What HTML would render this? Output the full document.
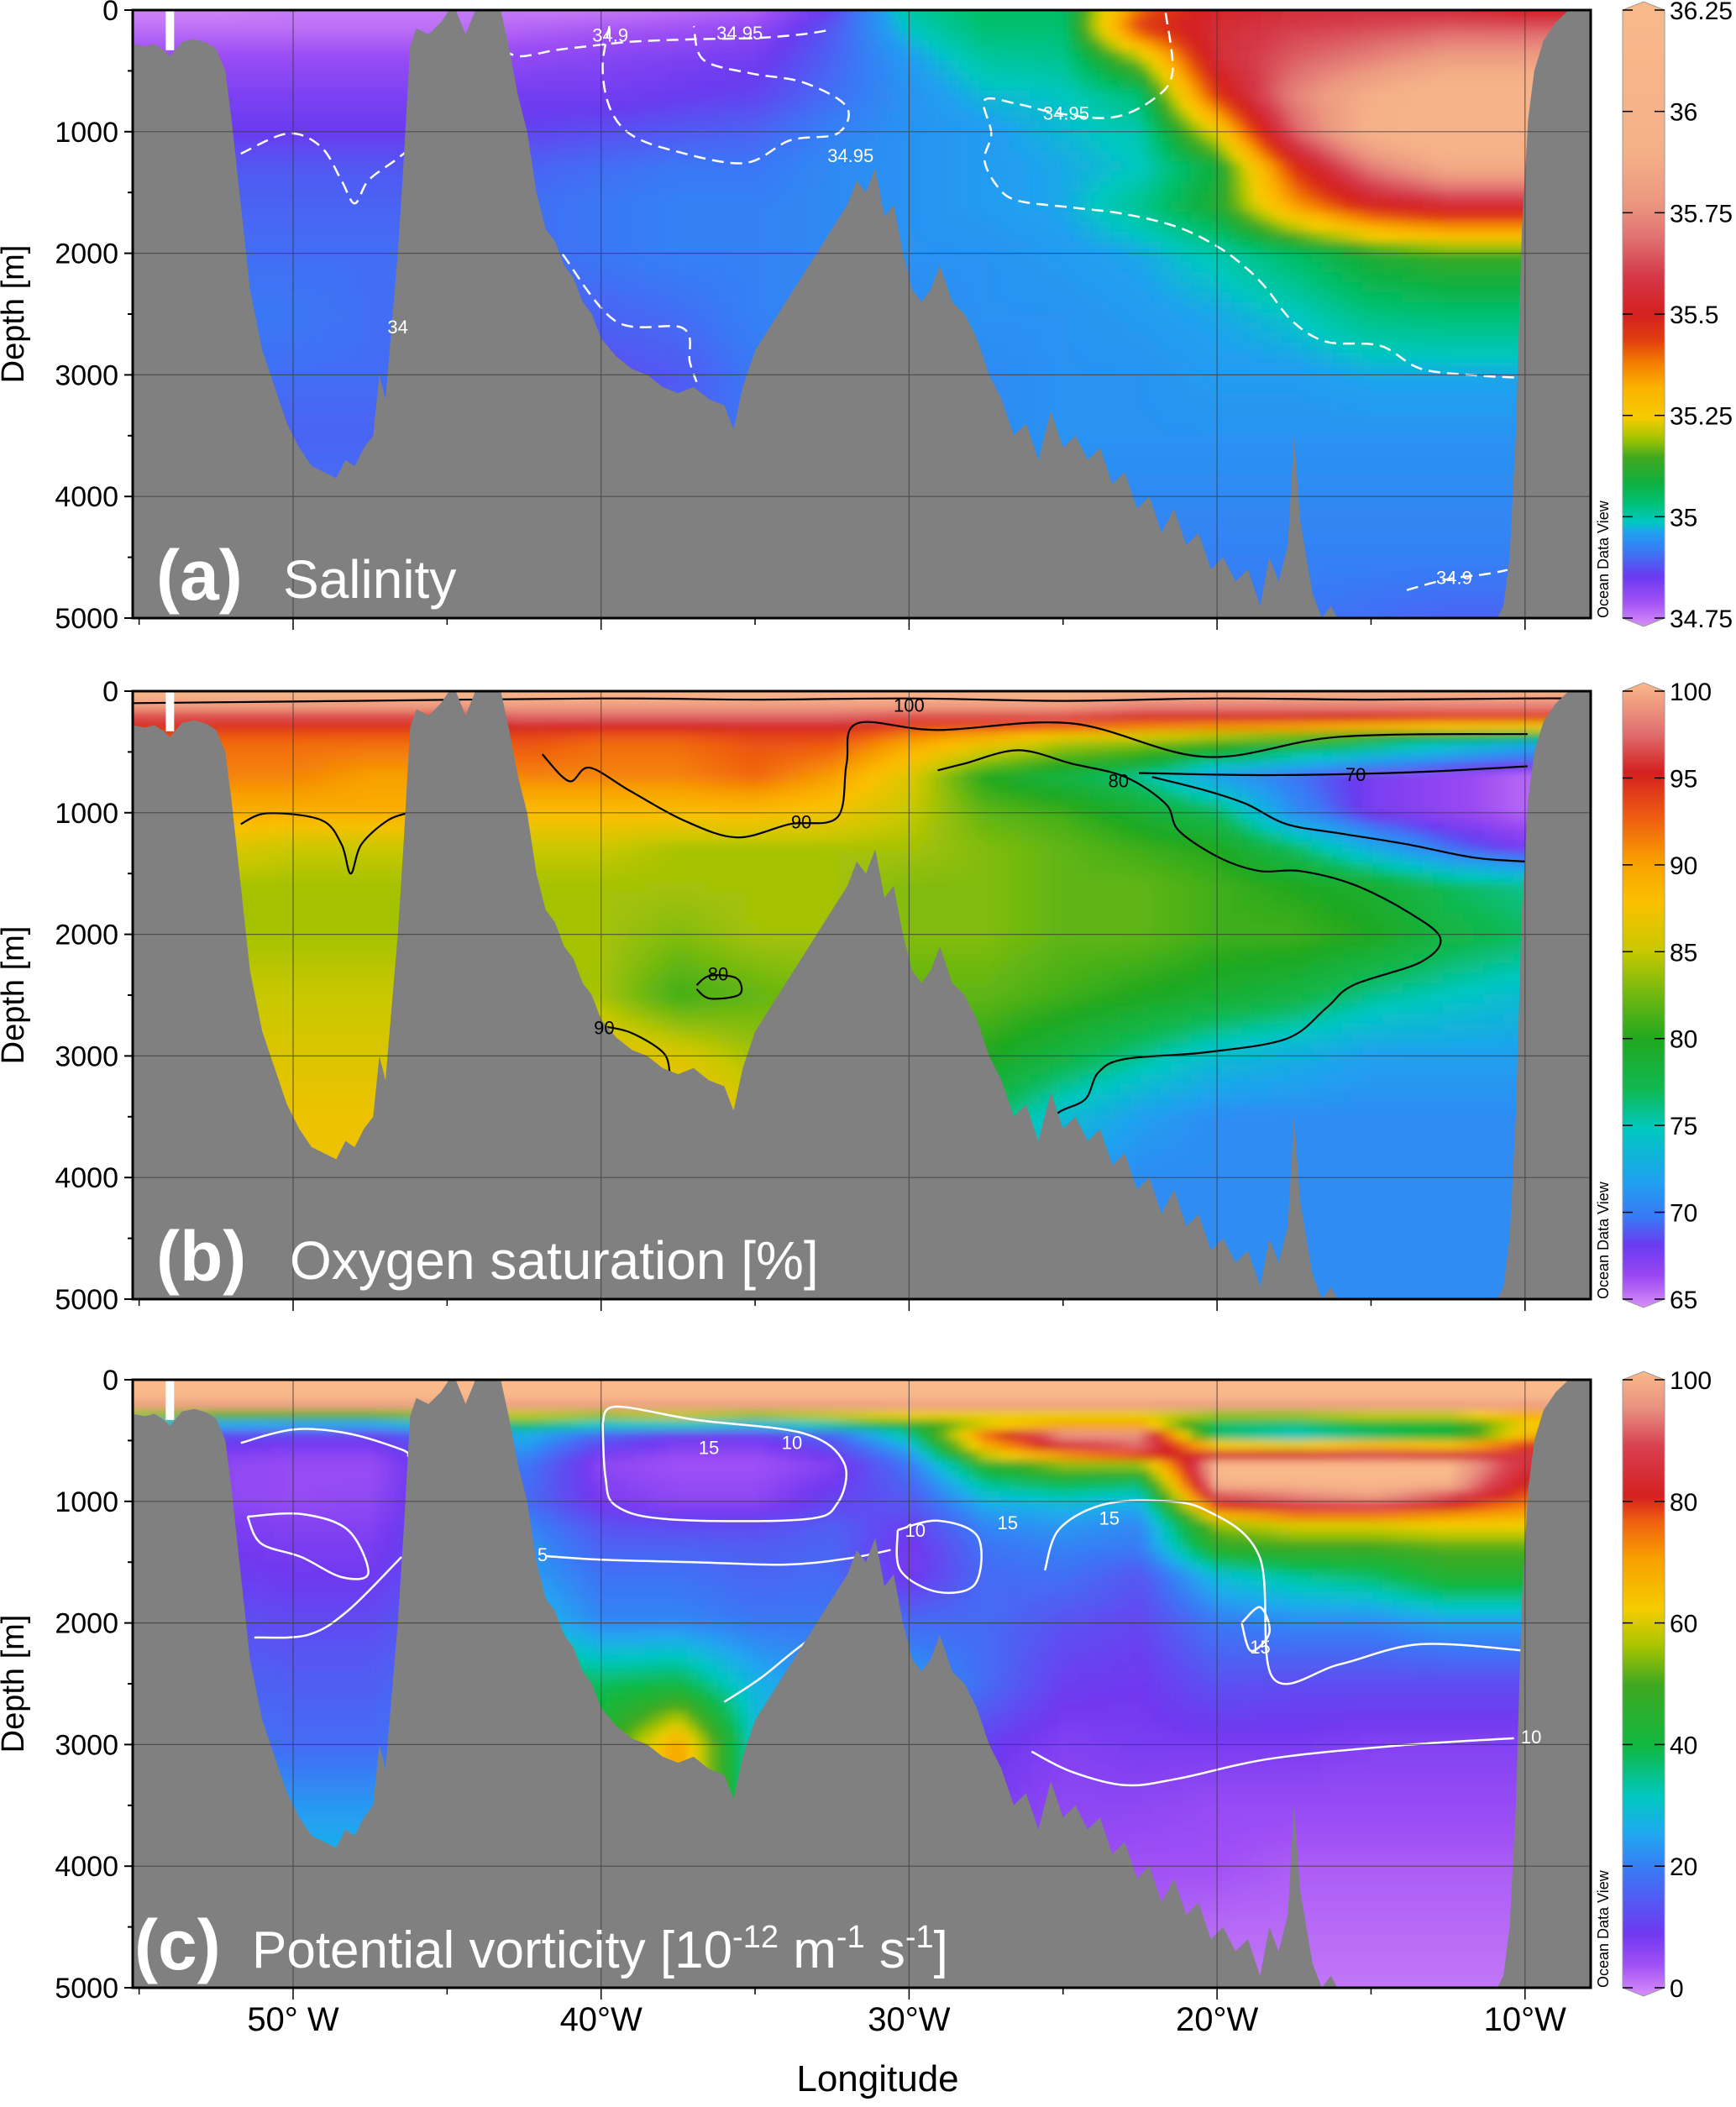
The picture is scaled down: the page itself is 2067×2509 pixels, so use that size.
<!DOCTYPE html>
<html><head><meta charset="utf-8"><title>Ocean section</title>
<style>
html,body{margin:0;padding:0;background:#fff;}
body{width:2067px;height:2504px;overflow:hidden;font-family:"Liberation Sans",sans-serif;}
svg text{font-family:"Liberation Sans",sans-serif;}
</style></head>
<body>
<svg id="fig" xmlns="http://www.w3.org/2000/svg" width="2067" height="2504" viewBox="0 0 2067 2504">
<defs>
<filter id="blur" x="-5%" y="-5%" width="110%" height="110%"><feGaussianBlur stdDeviation="5"/></filter>
</defs>
</svg>
<script>
// ---------- data ----------
const gridLon = [55,52.5,50,47.5,45,42.5,40,37.5,35,32.5,30,27.5,25,22.5,20,17.5,15,12.5,10,7.5];

const salDepth = [0,150,400,700,1000,1300,1600,2000,2500,3000,3500,4000,4500,5000];
const salValues = [
[34.76,34.76,34.77,34.77,34.77,34.77,34.77,34.78,34.79,34.88,35.02,35.06,35.06,35.40,35.52,35.55,35.56,35.55,35.50,35.50],
[34.78,34.78,34.78,34.78,34.78,34.79,34.80,34.81,34.83,34.90,35.00,35.05,35.05,35.45,35.55,35.60,35.62,35.65,35.65,35.65],
[34.82,34.82,34.82,34.82,34.82,34.83,34.84,34.85,34.86,34.91,34.97,35.02,35.03,35.20,35.55,35.65,35.72,35.80,35.80,35.80],
[34.85,34.85,34.85,34.85,34.85,34.86,34.86,34.87,34.88,34.92,34.96,34.99,35.00,35.05,35.45,35.72,35.88,36.00,36.00,36.00],
[34.87,34.87,34.87,34.87,34.87,34.88,34.89,34.90,34.91,34.94,34.96,34.97,34.99,35.01,35.25,35.65,35.92,36.02,36.00,36.00],
[34.90,34.90,34.90,34.90,34.90,34.91,34.92,34.93,34.93,34.95,34.96,34.97,34.98,35.00,35.10,35.45,35.70,35.85,35.85,35.85],
[34.91,34.91,34.91,34.91,34.91,34.92,34.93,34.94,34.94,34.95,34.96,34.97,34.98,35.03,35.12,35.35,35.50,35.55,35.55,35.55],
[34.92,34.92,34.92,34.92,34.92,34.92,34.93,34.94,34.94,34.95,34.96,34.96,34.97,34.98,35.01,35.06,35.12,35.15,35.15,35.15],
[34.92,34.93,34.93,34.92,34.92,34.91,34.91,34.92,34.94,34.95,34.95,34.96,34.96,34.97,34.98,35.00,35.04,35.05,35.05,35.05],
[34.92,34.92,34.92,34.92,34.91,34.90,34.89,34.90,34.93,34.95,34.95,34.95,34.96,34.96,34.97,34.97,34.98,34.98,34.98,34.98],
[34.91,34.91,34.91,34.91,34.91,34.90,34.90,34.91,34.93,34.95,34.95,34.95,34.96,34.96,34.96,34.96,34.96,34.96,34.96,34.96],
[34.92,34.92,34.92,34.92,34.92,34.92,34.92,34.92,34.93,34.94,34.95,34.95,34.95,34.95,34.95,34.95,34.95,34.95,34.95,34.95],
[34.92,34.92,34.92,34.92,34.92,34.92,34.92,34.92,34.93,34.94,34.94,34.94,34.94,34.94,34.94,34.94,34.94,34.94,34.94,34.94],
[34.92,34.92,34.92,34.92,34.92,34.92,34.92,34.92,34.92,34.93,34.93,34.93,34.93,34.93,34.93,34.93,34.92,34.91,34.91,34.91]
];

const oxyDepth = [0,120,250,400,700,1000,1300,1600,2000,2500,3000,3500,4000,4500,5000];
const oxyValues = [
[100,100,100,100,100,100,100,100,100,100,100,100,100,100,100,100,100,100,100,100],
[99,99,99,99,99,99,99,99,99,99,99,99,99,98,98,98,98,98,98,98],
[95,95,95,95,95,96,96,96,96,96,95,95,95,94,94,94,93,92,92,92],
[93,92,92,92,92,93,92,92,93,93,90,88,85,84,82,80,78,76,74,74],
[91,91,91,90,90,91,91,91,92,90,86,80,78,76,72,70,68,67,66,66],
[89,89,89,89,89,88,88,88,88,87,85,82,81,79,77,71,68,67,66,66],
[86,86,85,85,85,85,85,84,84,84,84,83,82,81,80,77,73,70,68,68],
[84,84,84,84,84,84,84,84,84,84,83,83,82,82,81,80,79,77,76,76],
[84,84,84,84,84,84,84,83,84,84,83,83,82,82,81,81,80,78,77,77],
[85,85,85,85,85,84,84,81,82,83,82,82,81,80,79,78,76,75,74,74],
[86,86,86,86,86,87,87,86,84,83,81,80,78,76,74,73,72,72,72,72],
[87,87,87,87,87,87,88,88,86,84,79,77,74,72,71,71,71,71,71,71],
[87,87,87,87,87,87,88,88,86,84,78,75,72,71,71,71,71,71,71,71],
[87,87,87,87,87,87,88,88,86,84,78,75,72,71,71,71,71,71,71,71],
[87,87,87,87,87,87,88,88,86,84,78,75,72,71,71,71,71,71,71,71]
];

const pvDepth = [0,200,240,320,450,580,700,850,1000,1080,1200,1400,1600,2000,2500,3000,3500,4000,4500,5000];
const pvValues = [
[100,100,100,100,100,100,100,100,100,100,100,100,100,100,100,100,100,100,100,100],
[100,100,100,100,100,100,100,100,100,100,100,100,100,100,100,100,100,100,100,100],
[80,80,80,80,80,80,80,80,80,80,80,80,80,80,80,80,80,80,80,80],
[40,35,35,35,40,45,40,45,40,45,50,50,50,50,40,40,45,45,60,60],
[15,14,12,12,18,28,18,12,12,18,35,75,95,95,35,30,35,40,65,65],
[10,9,8,8,15,24,10,7,7,12,25,65,80,90,75,75,80,75,85,85],
[8,7,6,6,13,20,7,5,5,8,20,45,55,55,100,100,100,100,85,85],
[8,7,6,6,13,19,8,6,6,10,17,35,40,38,100,100,100,100,80,80],
[8,7,6,7,13,18,9,7,7,12,15,28,30,28,85,90,95,85,75,75],
[9,8,7,7,13,20,11,9,9,13,14,25,27,25,70,80,80,75,70,70],
[10,9,8,8,14,22,14,13,13,16,11,22,24,22,55,60,60,62,62,62],
[11,10,9,9,14,24,17,17,16,17,9,19,21,20,45,48,48,50,50,50],
[12,11,10,10,15,25,19,19,17,18,9,18,19,15,30,35,38,45,45,45],
[14,14,13,13,17,30,22,22,20,20,18,18,14,12,20,22,22,25,25,25],
[17,17,16,16,19,40,38,40,28,22,25,18,11,10,14,13,13,13,13,13],
[20,20,18,18,21,45,45,70,30,22,22,11,8,9,9,9,8,8,8,8],
[26,26,24,24,26,45,45,70,30,20,18,9,7,7,6,6,6,6,6,6],
[30,30,28,28,28,45,45,50,30,20,15,8,6,5,5,4,4,4,4,4],
[30,30,28,28,28,45,45,50,30,20,15,8,5,4,3,3,3,3,3,3],
[30,30,28,28,28,45,45,50,30,20,15,8,5,3,2,2,2,2,2,2]
];

const bathyLon = [55.25,54.8,54.5,54.2,54.0,53.6,53.2,52.8,52.5,52.2,52.0,51.7,51.4,51.0,50.6,50.2,49.8,49.4,49.0,48.6,48.3,48.0,47.7,47.4,47.2,47.0,46.8,46.6,46.4,46.2,46.0,45.6,45.2,44.8,44.4,44.0,43.6,43.3,43.0,42.7,42.4,42.1,41.8,41.5,41.2,40.9,40.6,40.3,40.0,39.5,39.0,38.5,38.0,37.5,37.0,36.5,36.0,35.7,35.4,35.0,34.5,34.0,33.5,33.0,32.5,32.0,31.7,31.4,31.1,30.8,30.5,30.2,29.9,29.6,29.3,29.0,28.6,28.2,27.8,27.4,27.0,26.6,26.2,25.8,25.4,25.0,24.6,24.2,23.8,23.4,23.0,22.6,22.2,21.8,21.4,21.0,20.6,20.2,19.8,19.4,19.0,18.6,18.3,18.0,17.7,17.5,17.3,17.1,16.9,16.6,16.3,16.0,15.5,14.0,12.0,11.0,10.7,10.5,10.3,10.1,9.9,9.7,9.4,9.0,8.5,7.87];
const bathyDepth = [280,300,280,330,380,260,240,270,320,500,900,1600,2300,2800,3100,3400,3600,3750,3800,3850,3700,3750,3600,3500,3000,3200,2600,2000,1200,300,150,200,100,-50,200,-50,-50,-50,300,700,1000,1500,1800,1900,2100,2200,2400,2500,2700,2850,2950,3000,3100,3150,3100,3200,3250,3450,3100,2800,2600,2400,2200,2000,1800,1600,1400,1500,1300,1700,1600,2000,2300,2400,2300,2100,2400,2500,2700,3000,3200,3500,3400,3700,3300,3600,3500,3700,3600,3900,3800,4100,4000,4300,4100,4400,4300,4600,4500,4700,4600,4900,4500,4700,4400,3500,4200,4500,4800,5000,4900,5050,5100,5100,5100,5050,4900,4500,3500,1800,900,500,250,100,-20,-50];

// contour lines (lon W, depth m)
const salContours = [
 {lon:[21.67,21.45,22.11,23.41,25.15,26.46,27.55,27.33,27.55,27.11,26.46,24.72,22.98,21.24,19.93,19.06,18.41,17.54,16.45,14.71,13.40,11.66,10.05], dep:[22,519,740,883,850,773,740,1015,1236,1457,1568,1623,1678,1788,1954,2120,2285,2561,2727,2760,2948,3003,3025]},
 {lon:[39.73,39.95,39.73,39.08,37.77,35.38,33.86,32.33,32.03,33.42,35.16,36.68,36.99], dep:[132,464,795,1015,1148,1259,1071,1015,795,596,519,408,132]},
 {lon:[51.70,50.17,49.09,48.43,48.00,47.56,46.69,46.13], dep:[1181,1015,1126,1402,1590,1402,1236,1126]},
 {lon:[13.84,12.53,11.23,10.57], dep:[4770,4681,4637,4604]},
 {lon:[41.25,39.51,37.34,37.12,36.90], dep:[2009,2561,2616,2893,3058]},
 {lon:[43.2,42.6,41.5,40.5,39.0,37.0,35.0,33.5,32.5], dep:[330,380,330,300,260,240,230,200,160]}
];
const oxyContours = [
 {lon:[55.18,48,40,35,30,25,20,15,10,8.5], dep:[99,80,60,70,60,80,60,70,60,60]},
 {lon:[51.70,50.83,49.09,48.43,48.13,47.78,46.91,46.13], dep:[1093,1004,1060,1259,1501,1259,1060,994]},
 {lon:[41.91,41.04,40.38,39.08,37.34,35.60,33.86,32.33,32.03,31.68,29.07,24.72,20.37,16.01,9.92], dep:[519,740,629,817,1060,1203,1093,1038,596,265,320,265,541,375,353]},
 {lon:[29.07,28.20,26.46,24.72,22.98,21.67,21.24,19.93,18.62,17.32,15.58,13.84,12.75,13.40,15.58,16.45,17.75,20.37,22.98,23.85,24.28,25.15,25.59], dep:[651,596,486,596,706,927,1148,1369,1479,1479,1590,1811,2031,2230,2418,2605,2859,2970,3025,3135,3356,3467,3632]},
 {lon:[22.11,20.37,19.06,17.75,16.01,13.84,11.66,9.92], dep:[706,817,927,1093,1170,1259,1369,1402]},
 {lon:[22.54,19.0,16.01,13.0,9.92], dep:[673,690,684,660,618]},
 {lon:[36.90,36.46,35.60,35.51,36.46,36.90], dep:[2418,2340,2362,2495,2528,2451]},
 {lon:[40.17,39.08,37.99,37.77], dep:[2749,2804,2970,3135]}
];
const pvContours = [
 {lon:[39.95,39.51,36.90,33.42,32.11,32.33,33.42,37.77,39.51,39.86,39.95], dep:[353,221,331,441,685,1016,1148,1148,1038,795,353]},
 {lon:[30.37,29.07,27.77,27.85,29.07,30.28,30.37], dep:[1236,1159,1291,1678,1745,1568,1236]},
 {lon:[26.02,24.72,22.98,21.24,18.19,13.84,10.36], dep:[3058,3224,3334,3279,3113,3003,2948]},
 {lon:[25.59,25.15,23.85,22.11,20.37,18.62,18.19,16.01,13.40,9.92], dep:[1568,1236,1038,994,1071,1457,2451,2340,2175,2230]},
 {lon:[51.70,49.96,48.22,46.48,46.26], dep:[519,408,441,574,629]},
 {lon:[51.48,49.74,48.22,47.56,48.43,49.74,51.04,51.48], dep:[1126,1104,1236,1590,1623,1457,1347,1126]},
 {lon:[51.26,49.52,48.22,46.48], dep:[2120,2098,1899,1457]},
 {lon:[36.0,34.8,33.3,32.0,31.2], dep:[2650,2450,2150,2000,1950]},
 {lon:[41.8,40.0,37.0,34.0,32.0,30.6], dep:[1450,1480,1500,1520,1470,1400]},
 {lon:[19.2,18.6,18.3,18.9,19.2], dep:[2000,1870,2080,2230,2000]}
];

const depthTicks = [0,1000,2000,3000,4000,5000];
const lonTicks = [50,40,30,20,10];
const lonTickLabels = ["50\u00b0 W","40\u00b0W","30\u00b0W","20\u00b0W","10\u00b0W"];
const salBarLabels = ["36.25","36","35.75","35.5","35.25","35","34.75"];
const oxyBarLabels = ["100","95","90","85","80","75","70","65"];
const pvBarLabels = ["100","80","60","40","20","0"];

// ---------- layout ----------
const PL = 158, PR = 1894, PH = 724;
const tops = [12, 823, 1643];
function X(w){ return 349 + (50 - w) * 36.67; }
function Yf(top){ return d => top + d / 5000 * PH; }
const NS = "http://www.w3.org/2000/svg";
const svg = document.getElementById('fig');
function el(tag, attrs, parent){
  const e = document.createElementNS(NS, tag);
  for (const k in attrs) e.setAttribute(k, attrs[k]);
  (parent || svg).appendChild(e);
  return e;
}
function hex(c){ return [parseInt(c.slice(1,3),16),parseInt(c.slice(3,5),16),parseInt(c.slice(5,7),16)]; }
function cmap(stops, f){
  f = Math.max(0, Math.min(1, f));
  for (let i=1;i<stops.length;i++){
    if (f <= stops[i][0]){
      const a=stops[i-1], b=stops[i]; const t=(f-a[0])/(b[0]-a[0]||1);
      const ca=hex(a[1]), cb=hex(b[1]);
      return 'rgb('+ca.map((v,j)=>Math.round(v+(cb[j]-v)*t)).join(',')+')';
    }
  }
  return stops[stops.length-1][1];
}
const salStops = [[0,'#d890f8'],[0.04,'#a050f5'],[0.08,'#6a3af0'],[0.12,'#3a78f5'],[0.15,'#20a0f0'],[0.167,'#00c8c0'],[0.2,'#00c070'],[0.23,'#10b040'],[0.27,'#40a820'],[0.3,'#a0c400'],[0.333,'#f5cc00'],[0.38,'#fcb400'],[0.42,'#f58000'],[0.46,'#e03c10'],[0.5,'#d42020'],[0.56,'#d43848'],[0.62,'#e07070'],[0.68,'#ec9880'],[0.76,'#f5b088'],[1,'#f9b98a']];
const oxyStops = [[0,'#d890f8'],[0.05,'#9a48f2'],[0.1,'#6a3af0'],[0.143,'#3a78f5'],[0.2,'#20a0f0'],[0.286,'#00c8c0'],[0.35,'#10b850'],[0.429,'#20a820'],[0.5,'#70b810'],[0.571,'#c8c800'],[0.65,'#fbc000'],[0.714,'#f8a000'],[0.78,'#f06010'],[0.857,'#d42020'],[0.92,'#e07070'],[1,'#f9b98a']];
const pvStops = [[0,'#d890f8'],[0.05,'#a050f5'],[0.1,'#7038f0'],[0.2,'#3a78f5'],[0.26,'#20a8f0'],[0.32,'#00c8c0'],[0.4,'#10b840'],[0.5,'#40a820'],[0.56,'#a8c400'],[0.62,'#f5cc00'],[0.7,'#f8a000'],[0.76,'#f06010'],[0.8,'#d42020'],[0.88,'#d84050'],[0.94,'#e89080'],[1,'#f9b98a']];

function interp(values, depths, w, d){
  let ci = 0;
  while (ci < gridLon.length-2 && w < gridLon[ci+1]) ci++;
  let tx = (gridLon[ci]-w)/(gridLon[ci]-gridLon[ci+1]); tx=Math.max(0,Math.min(1,tx));
  let ri = 0;
  while (ri < depths.length-2 && d > depths[ri+1]) ri++;
  let ty = (d-depths[ri])/(depths[ri+1]-depths[ri]); ty=Math.max(0,Math.min(1,ty));
  const a=values[ri][ci], b=values[ri][ci+1], c=values[ri+1][ci], e=values[ri+1][ci+1];
  return (a*(1-tx)+b*tx)*(1-ty)+(c*(1-tx)+e*tx)*ty;
}
function smoothPath(pts){
  let s = 'M'+pts[0][0].toFixed(1)+','+pts[0][1].toFixed(1);
  for (let i=0;i<pts.length-1;i++){
    const p0=pts[i-1]||pts[i], p1=pts[i], p2=pts[i+1], p3=pts[i+2]||p2;
    const c1=[p1[0]+(p2[0]-p0[0])/6, p1[1]+(p2[1]-p0[1])/6];
    const c2=[p2[0]-(p3[0]-p1[0])/6, p2[1]-(p3[1]-p1[1])/6];
    s+=' C'+c1[0].toFixed(1)+','+c1[1].toFixed(1)+' '+c2[0].toFixed(1)+','+c2[1].toFixed(1)+' '+p2[0].toFixed(1)+','+p2[1].toFixed(1);
  }
  return s;
}

function drawPanel(idx, key, values, depths, vmin, vmax, stops, contours, contourStyle, barLabels, titleLetter, titleText){
  const top = tops[idx]; const Y = Yf(top);
  const g = el('g', {});  
  const cid = 'clip'+idx;
  const cp = el('clipPath', {id:cid}, g); el('rect', {x:PL, y:top, width:PR-PL, height:PH}, cp);
  const inner = el('g', {'clip-path':'url(#'+cid+')'}, g);
  const field = el('g', {filter:'url(#blur)'}, inner);
   
  const cs = 12;
  for (let y = top-24; y < top+PH+24; y += cs){
    for (let x = PL-24; x < PR+24; x += cs){
      const w = 50 - (x+cs/2-349)/36.67;
      const d = (y+cs/2-top)/PH*5000;
      const v = interp(values, depths, w, Math.max(0,d));
      el('rect', {x:x, y:y, width:cs+1, height:cs+1, fill:cmap(stops,(v-vmin)/(vmax-vmin))}, field);
    }
  }
  const cg = el('g', {fill:'none', stroke:contourStyle.color, 'stroke-width':contourStyle.width, 'stroke-dasharray':contourStyle.dash, 'stroke-linejoin':'round'}, inner);
   
  contours.forEach((c,i)=>{
    const pts = c.lon.map((w,j)=>[X(w), Y(c.dep[j])]);
    const p = el('path', {d:smoothPath(pts)}, cg);
    
    
  });
  let pts = [[X(bathyLon[0]), top+PH+5]];
  bathyLon.forEach((w,i)=>pts.push([X(w), Y(bathyDepth[i])]));
  pts.push([X(bathyLon[bathyLon.length-1]), top+PH+5]);
  const b = el('polygon', {points:pts.map(p=>p[0].toFixed(1)+','+p[1].toFixed(1)).join(' '), fill:'#808080'}, inner);
  
  
  el('rect',{x:X(54.0)-5,y:top,width:10,height:Y(330)-top,fill:'#fff'},inner);
  const gg = el('g', {stroke:'#3a3a3a', 'stroke-width':1.2, opacity:0.7}, inner);
   
  depthTicks.slice(1,-1).forEach(d=>el('line',{x1:PL,x2:PR,y1:Y(d),y2:Y(d)},gg));
  lonTicks.forEach(w=>el('line',{x1:X(w),x2:X(w),y1:top,y2:top+PH},gg));
  const t1 = el('text', {x:idx===2?160:186, y:top+PH-22, fill:'#fff', 'font-size':84, 'font-weight':'bold'}, g);
  t1.textContent = titleLetter;
   
  if (typeof titleText === 'string'){
    const t2 = el('text', {x:idx===0?337:345, y:top+PH-24, fill:'#fff', 'font-size':64}, g);
    t2.textContent = titleText;
     
  } else {
    const t2 = el('text', {x:300, y:top+PH-24, fill:'#fff', 'font-size':62}, g);
     
    titleText.forEach(part=>{
      const ts = el('tspan', part.sup ? {'font-size':38, dy:-24} : {'font-size':62, dy: part.down?24:0}, t2);
      ts.textContent = part.t;
    });
  }
  const fr = el('rect', {x:PL, y:top, width:PR-PL, height:PH, fill:'none', stroke:'#000', 'stroke-width':3}, g);
   
  for (let d=0; d<=5000; d+=500){
    el('line',{x1:PL-(d%1000?6:10),x2:PL,y1:Y(d),y2:Y(d),stroke:'#000','stroke-width':2},g);
  }
  for (let w=55; w>=10; w-=5){
    el('line',{x1:X(w),x2:X(w),y1:top+PH,y2:top+PH+(w%10?8:14),stroke:'#000','stroke-width':1.5},g);
  }
  depthTicks.forEach(d=>{
    const t = el('text',{x:141,y:Y(d)+12,'text-anchor':'end','font-size':34,fill:'#000'},g);
    t.textContent = String(d);
     
  });
  const yl = el('text',{x:0,y:0,'text-anchor':'middle','font-size':38,fill:'#000',transform:'translate(28,'+(top+PH/2)+') rotate(-90)'},g);
  yl.textContent = 'Depth [m]';
   
  const odv = el('text',{x:0,y:0,'font-size':18,fill:'#000',transform:'translate(1915,'+(top+PH)+') rotate(-90)'},g);
  odv.textContent = 'Ocean Data View';
   
  const gid = 'cb'+idx;
  const lg = el('linearGradient',{id:gid,x1:0,y1:1,x2:0,y2:0},svg.querySelector('defs'));
  stops.forEach(s=>el('stop',{offset:s[0],'stop-color':s[1]},lg));
  const bx0=1932,bx1=1982,bxm=1957;
  const cb = el('polygon',{points:`${bx0},${top} ${bxm},${top-10} ${bx1},${top} ${bx1},${top+PH} ${bxm},${top+PH+10} ${bx0},${top+PH}`,fill:'url(#'+gid+')',stroke:'#999','stroke-width':1},g);
   
  barLabels.forEach((lab,i)=>{
    const y = top + i/(barLabels.length-1)*PH;
    el('line',{x1:bx0,x2:bx0+12,y1:y,y2:y,stroke:'#000','stroke-width':1.5},g);
    el('line',{x1:bx1-12,x2:bx1,y1:y,y2:y,stroke:'#000','stroke-width':1.5},g);
    const t = el('text',{x:1988,y:y+11,'font-size':30,fill:'#000'},g);
    t.textContent = lab;
     
  });
}

drawPanel(0,'salinity',salValues,salDepth,34.75,36.25,salStops,salContours,{color:'#fff',width:2.5,dash:'14 8'},salBarLabels,'(a)','Salinity');
drawPanel(1,'oxygen',oxyValues,oxyDepth,65,100,oxyStops,oxyContours,{color:'#000',width:2.2,dash:'none'},oxyBarLabels,'(b)','Oxygen saturation [%]');
drawPanel(2,'pv',pvValues,pvDepth,0,100,pvStops,pvContours,{color:'#fff',width:2.5,dash:'none'},pvBarLabels,'(c)',
  [{t:'Potential vorticity [10'},{t:'-12',sup:true},{t:' m',down:true},{t:'-1',sup:true},{t:' s',down:true},{t:'-1',sup:true},{t:']',down:true}]);

const cLabels = [
 [0,'34.9',39.7,260,'#fff'],[0,'34.95',35.5,240,'#fff'],[0,'34.95',24.9,900,'#fff'],[0,'34.95',31.9,1250,'#fff'],[0,'34.9',12.3,4720,'#fff'],[0,'34',46.6,2660,'#fff'],
 [1,'100',30.0,170,'#000'],[1,'90',33.5,1130,'#000'],[1,'80',23.2,790,'#000'],[1,'70',15.5,740,'#000'],[1,'80',36.2,2380,'#000'],[1,'90',39.9,2820,'#000'],
 [2,'15',36.5,610,'#fff'],[2,'10',33.8,570,'#fff'],[2,'10',29.8,1290,'#fff'],[2,'15',26.8,1230,'#fff'],[2,'15',23.5,1190,'#fff'],[2,'15',18.6,2250,'#fff'],[2,'10',9.8,2990,'#fff'],[2,'5',41.9,1490,'#fff']
];
cLabels.forEach(c=>{
  const Y = Yf(tops[c[0]]);
  const t = el('text',{x:X(c[2]),y:Y(c[3]),'font-size':22,fill:c[4],'text-anchor':'middle'});
  t.textContent = c[1];
   
});

lonTicks.forEach((w,i)=>{
  const t = el('text',{x:X(w),y:2418,'text-anchor':'middle','font-size':40,fill:'#000'});
  t.textContent = lonTickLabels[i];
   
});
const xt = el('text',{x:1045,y:2490,'text-anchor':'middle','font-size':44,fill:'#000'});
xt.textContent = 'Longitude';
 
</script>
</body></html>
